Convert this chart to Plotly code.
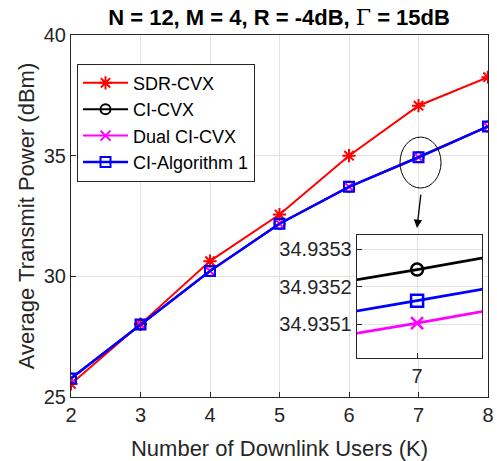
import plotly.graph_objects as go

# number of downlink users
users = [2, 3, 4, 5, 6, 7, 8]

# average transmit power (dBm)
sdr_cvx = [25.54, 28.02, 30.63, 32.56, 35.00, 37.07, 38.25]
ci_cvx = [25.77, 28.00, 30.22, 32.18, 33.71, 34.935246, 36.21]
dual_ci_cvx = [25.77, 28.00, 30.22, 32.18, 33.71, 34.935103, 36.21]
ci_alg1 = [25.77, 28.00, 30.22, 32.18, 33.71, 34.935163, 36.21]

main_yticks = [25, 30, 35, 40]
inset_yticks = [34.9351, 34.9352, 34.9353]

FONT = "Liberation Sans, Arial, sans-serif"
AXC = "#262626"
GRID = "#e3e3e3"

series = [
    ("SDR-CVX", sdr_cvx, "#ff0000", "asterisk-open", 2, 11),
    ("CI-CVX", ci_cvx, "#000000", "circle-open", 2, 10),
    ("Dual CI-CVX", dual_ci_cvx, "#ff00ff", "x-thin-open", 2, 10),
    ("CI-Algorithm 1", ci_alg1, "#0000ff", "square-open", 2.5, 10),
]

fig = go.Figure()

for name, vals, col, sym, lw, ms in series:
    fig.add_trace(go.Scatter(
        x=users, y=vals, name=name, mode="lines+markers",
        line=dict(color=col, width=lw),
        marker=dict(symbol=sym, size=ms, color=col, line=dict(color=col, width=2)),
        xaxis="x", yaxis="y",
    ))

# zoomed inset around K = 7
for name, vals, col, sym, lw, ms in series[1:]:
    fig.add_trace(go.Scatter(
        x=users[4:], y=vals[4:], mode="lines+markers", showlegend=False,
        line=dict(color=col, width=2.7, simplify=False),
        marker=dict(symbol=sym, size=12, color=col, line=dict(color=col, width=2.5)),
        xaxis="x2", yaxis="y2",
    ))

axis_common = dict(
    showline=True, linecolor=AXC, linewidth=1, mirror=True,
    ticks="inside", ticklen=5, tickcolor=AXC, automargin=False,
    showgrid=True, gridcolor=GRID, gridwidth=1, zeroline=False,
    tickfont=dict(family=FONT, size=20, color=AXC),
)

fig.update_layout(
    width=497, height=461,
    margin=dict(l=71, r=9, t=35, b=64),
    paper_bgcolor="white", plot_bgcolor="white",
    font=dict(family=FONT, color=AXC),
    title=dict(
        text="<b>N = 12, M = 4, R = -4dB, <span style=\"font-family:'DejaVu Serif';font-weight:normal\">Γ</span> = 15dB</b>",
        x=0.5615, xanchor="center", y=0.962, yanchor="middle",
        font=dict(family=FONT, size=22, color="#000000"),
    ),
    xaxis=dict(
        axis_common, range=[2, 8], tickvals=users,
        title=dict(text="Number of Downlink Users (K)", font=dict(family=FONT, size=22, color=AXC)),
    ),
    yaxis=dict(
        axis_common, range=[25, 40], tickvals=main_yticks,
        title=dict(text="Average Transmit Power (dBm)", font=dict(family=FONT, size=22, color=AXC), standoff=3),
    ),
    xaxis2=dict(
        axis_common, domain=[0.685, 0.986], anchor="y2",
        range=[7 - 0.0000224, 7 + 0.0000241], tickvals=[7], ticktext=["7"],
    ),
    yaxis2=dict(
        axis_common, domain=[0.109, 0.447], anchor="x2",
        range=[34.935011, 34.935338], tickvals=inset_yticks, tickformat=".4f",
    ),
    legend=dict(
        x=0.0144, y=0.921, xanchor="left", yanchor="top",
        bgcolor="white", bordercolor=AXC, borderwidth=1,
        font=dict(family=FONT, size=18, color="#000000"),
        itemwidth=45, tracegroupgap=0,
    ),
    showlegend=True,
)

# ellipse marking the zoomed point
fig.add_shape(type="circle", xref="x", yref="y",
              x0=6.734, x1=7.324, y0=33.66, y1=35.77,
              line=dict(color="#000000", width=1))

# arrow towards the inset
fig.add_annotation(x=6.978, y=32.0, ax=7.036, ay=33.45,
                   xref="x", yref="y", axref="x", ayref="y",
                   text="", showarrow=True, arrowhead=2, arrowsize=1.3,
                   arrowwidth=1.3, arrowcolor="#000000")

# drop the default page margin so the figure sits at the window's corner
fig.write_html("out.html", config={"displayModeBar": False},
               post_script="document.body.style.margin='0';")
